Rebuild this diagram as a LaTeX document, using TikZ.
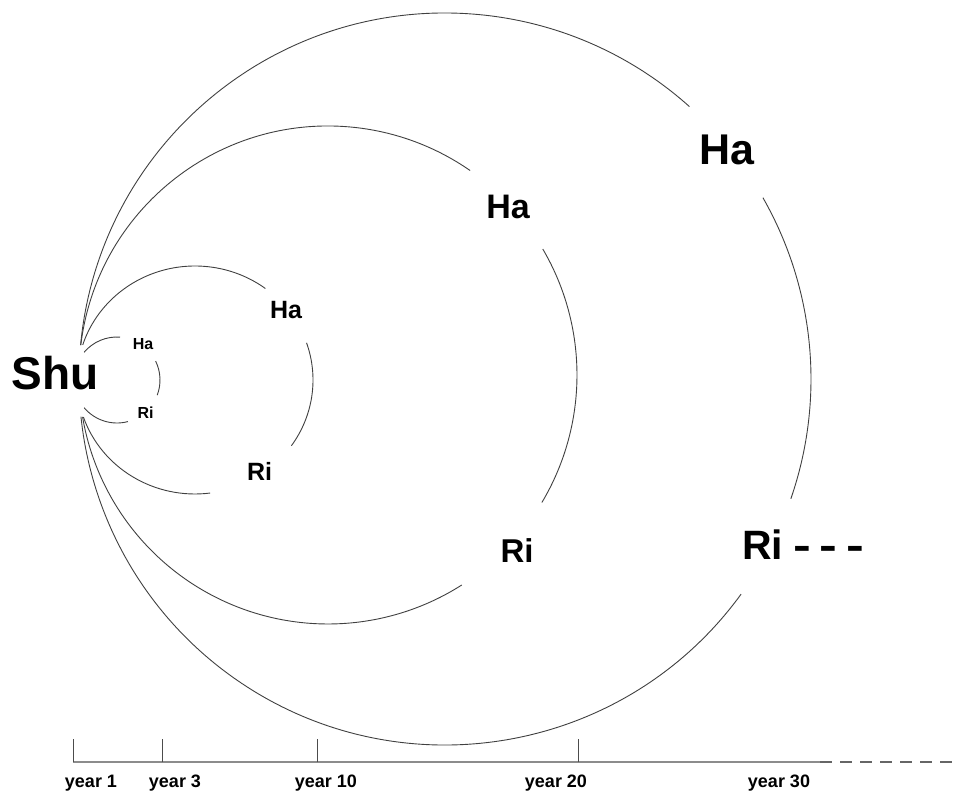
\documentclass[tikz,border=0pt]{standalone}
\usepackage{fontspec}
\setmainfont{Liberation Sans}

\begin{document}
\begin{tikzpicture}[x=1pt, y=1pt]

    \useasboundingbox (0,0) rectangle (960,792);

    % Define the styles
    \tikzstyle{ring} = [draw=black!75, line width=0.9pt]
    \tikzstyle{stage} = [font=\bfseries, anchor=base, inner sep=0pt]
    \tikzstyle{axisline} = [draw=black!45, line width=1.6pt]
    \tikzstyle{tick} = [draw=black!70, line width=0.8pt]
    \tikzstyle{yearlabel} = [font=\bfseries\fontsize{18}{21}\selectfont, anchor=base, inner sep=0pt]

    % Centres of the circles
    \coordinate (c3) at (117,412);
    \coordinate (c10) at (195,412);
    \coordinate (c20) at (328,417);
    \coordinate (c30) at (445,413);

    % Nodes
    \node (shu) [stage, font=\bfseries\fontsize{46}{52}\selectfont] at (55,402) {Shu};

    \node (ha3) [stage, font=\bfseries\fontsize{16}{18}\selectfont] at (143,442) {Ha};
    \node (ri3) [stage, font=\bfseries\fontsize{16}{18}\selectfont] at (145.5,373) {Ri};

    \node (ha10) [stage, font=\bfseries\fontsize{25}{28}\selectfont] at (286,473) {Ha};
    \node (ri10) [stage, font=\bfseries\fontsize{25}{28}\selectfont] at (259.5,311) {Ri};

    \node (ha20) [stage, font=\bfseries\fontsize{34}{38}\selectfont] at (508,573) {Ha};
    \node (ri20) [stage, font=\bfseries\fontsize{33}{38}\selectfont] at (517,229) {Ri};

    \node (ha30) [stage, font=\bfseries\fontsize{43}{48}\selectfont] at (727,627) {Ha};
    \node (ri30) [stage, anchor=base west, font=\bfseries\fontsize{41}{46}\selectfont] at (742,232) {Ri\kern10pt\scalebox{1.3}[1]{-}\kern9pt\scalebox{1.3}[1]{-}\kern9pt\scalebox{1.3}[1]{-}};

    % Year 3 circle
    \draw [ring] (c3) ++(139.8:43) arc[start angle=139.8, end angle=86, radius=43];
    \draw [ring] (c3) ++(26:43) arc[start angle=26, end angle=-20.6, radius=43];
    \draw [ring] (c3) ++(-75.3:43) arc[start angle=-75.3, end angle=-139.8, radius=43];

    % Year 10 circle
    \draw [ring] (c10) ++(162.1:118 and 114) arc[start angle=162.1, end angle=53.4, x radius=118, y radius=114];
    \draw [ring] (c10) ++(19:118 and 114) arc[start angle=19, end angle=-35.2, x radius=118, y radius=114];
    \draw [ring] (c10) ++(-82.6:118 and 114) arc[start angle=-82.6, end angle=-161, x radius=118, y radius=114];

    % Year 20 circle
    \draw [ring] (c20) ++(173.1:249) arc[start angle=173.1, end angle=55.2, radius=249];
    \draw [ring] (c20) ++(30.4:249) arc[start angle=30.4, end angle=-30.8, radius=249];
    \draw [ring] (c20) ++(-57.5:249) arc[start angle=-57.5, end angle=-170.3, radius=249];

    % Year 30 circle
    \draw [ring] (c30) ++(174.7:366) arc[start angle=174.7, end angle=48.1, radius=366];
    \draw [ring] (c30) ++(29.7:366) arc[start angle=29.7, end angle=-19.1, radius=366];
    \draw [ring] (c30) ++(-36:366) arc[start angle=-36, end angle=-174.1, radius=366];

    % Time axis
    \coordinate (t1) at (73,30);
    \coordinate (t3) at (162,30);
    \coordinate (t10) at (317,30);
    \coordinate (t20) at (578,30);
    \coordinate (axend) at (820,30);
    \coordinate (axfar) at (960,30);

    \draw [axisline] (t1) -- (axend);
    \draw [draw=black!60, line width=1.2pt, dash pattern=on 12pt off 8pt] (axend) -- (axfar);
    \foreach \t in {t1, t3, t10, t20}
        \draw [tick] (\t) -- ++(0,23);

    \node (y1) [yearlabel] at (91,5) {year 1};
    \node (y3) [yearlabel] at (175,5) {year 3};
    \node (y10) [yearlabel] at (326,5) {year 10};
    \node (y20) [yearlabel] at (556,5) {year 20};
    \node (y30) [yearlabel] at (779,5) {year 30};

\end{tikzpicture}
\end{document}
